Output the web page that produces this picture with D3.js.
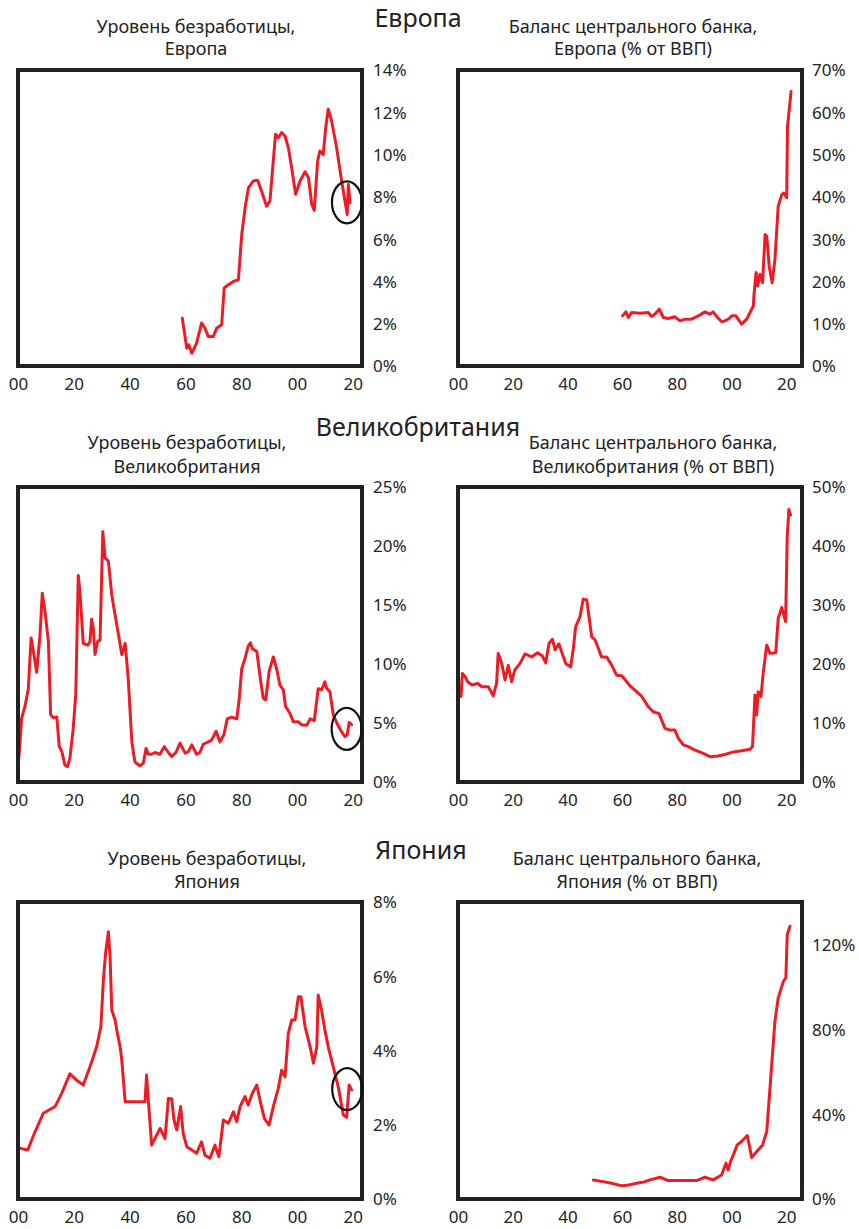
<!DOCTYPE html>
<html><head><meta charset="utf-8">
<script src="https://cdn.jsdelivr.net/npm/d3@7"></script>
<style>
html,body{margin:0;padding:0;background:#fff;}
text{font-family:"Noto Sans",sans-serif;fill:#222;}
</style></head>
<body>
<svg id="chart" width="859" height="1229"></svg>
<script>
// ---------- DATA ----------
const sectionTitles = ["Европа", "Великобритания", "Япония"];
const xTickYears = [1900, 1920, 1940, 1960, 1980, 2000, 2020];
const xTickLabels = ["00", "20", "40", "60", "80", "00", "20"];

const euUnempTitle = ["Уровень безработицы,", "Европа"];
const euBalTitle = ["Баланс центрального банка,", "Европа (% от ВВП)"];
const ukUnempTitle = ["Уровень безработицы,", "Великобритания"];
const ukBalTitle = ["Баланс центрального банка,", "Великобритания (% от ВВП)"];
const jpUnempTitle = ["Уровень безработицы,", "Япония"];
const jpBalTitle = ["Баланс центрального банка,", "Япония (% от ВВП)"];

const euUnempTicks = [0, 2, 4, 6, 8, 10, 12, 14];
const euBalTicks = [0, 10, 20, 30, 40, 50, 60, 70];
const ukUnempTicks = [0, 5, 10, 15, 20, 25];
const ukBalTicks = [0, 10, 20, 30, 40, 50];
const jpUnempTicks = [0, 2, 4, 6, 8];
const jpBalTicks = [0, 40, 80, 120];

// [year, percent]
const euUnemp = [[1958.9,2.26],[1959.6,1.63],[1960.5,0.84],[1961.2,1.0],[1962.3,0.6],[1963.2,0.85],[1964,1.08],[1965.8,2.03],[1967,1.79],[1968.2,1.39],[1970,1.39],[1971.2,1.79],[1973,1.95],[1973.9,3.69],[1975.4,3.84],[1977.2,4.0],[1979,4.08],[1980.2,6.22],[1981.4,7.48],[1982.6,8.43],[1984.3,8.75],[1985.9,8.78],[1987.3,8.27],[1989.1,7.56],[1990.3,7.8],[1991.5,9.7],[1992.3,10.96],[1993.3,10.8],[1994.5,11.04],[1995.7,10.88],[1996.9,10.33],[1998.1,9.38],[1999.5,8.12],[2001.1,8.75],[2002.9,9.19],[2004.1,8.91],[2005.3,7.64],[2006.2,7.36],[2007.4,9.7],[2008.2,10.17],[2009.4,10.01],[2010.3,11.28],[2011.2,12.15],[2012.4,11.6],[2014.2,10.33],[2016,8.75],[2017.2,7.8],[2018,7.17],[2018.4,8.59],[2019,7.72]];

const euBal = [[1960.2,11.86],[1961.4,12.8],[1962.3,11.47],[1963.5,12.65],[1966.5,12.5],[1969.6,12.65],[1970.8,11.7],[1972,12.26],[1973.6,13.43],[1975.1,11.47],[1976.9,11.24],[1979.3,11.63],[1981.2,10.68],[1983,11.08],[1985.4,11.08],[1987.9,11.86],[1990.3,12.8],[1992.1,12.26],[1993.3,12.8],[1994.6,11.7],[1996.4,10.44],[1997.6,10.68],[1999.2,11.24],[2000.1,11.86],[2001.6,11.86],[2003.7,9.9],[2005.6,11.08],[2006.8,12.65],[2008,14.2],[2008.2,16.5],[2009,22.1],[2009.6,18.9],[2010.4,21.7],[2011.4,19.7],[2012.3,31.1],[2012.9,30.7],[2013.8,23.6],[2014.9,19.7],[2015.9,25.2],[2017.1,37.8],[2018.4,40.5],[2019.2,40.9],[2020.2,39.8],[2020.5,56.6],[2021,59.8],[2021.8,64.9]];

const ukUnemp = [[1900.3,2.0],[1901.3,5.4],[1902.5,6.4],[1903.7,7.9],[1904.7,12.2],[1905.7,10.8],[1906.7,9.3],[1907.9,12.5],[1908.7,16.0],[1909.7,14.4],[1910.9,11.9],[1911.7,5.7],[1912.7,5.45],[1913.9,5.5],[1914.8,3.0],[1915.7,2.6],[1916.8,1.44],[1917.7,1.3],[1918.6,2.0],[1919.8,4.55],[1920.7,7.4],[1921.6,17.5],[1922.2,16.1],[1923.4,11.75],[1925,11.6],[1925.8,11.9],[1926.4,13.8],[1927,13.0],[1927.6,10.8],[1928.6,11.95],[1929.4,12.0],[1930.4,21.2],[1931.2,19.0],[1932.4,18.7],[1933.6,15.85],[1934.8,14.15],[1936,12.5],[1937.2,10.8],[1938.4,11.75],[1939.5,8.8],[1940.8,3.4],[1941.9,1.7],[1943.7,1.38],[1944.9,1.58],[1945.9,2.85],[1946.7,2.35],[1947.9,2.35],[1949.1,2.5],[1950.9,2.35],[1952.4,3.0],[1953.9,2.5],[1955.1,2.15],[1956.6,2.5],[1958.1,3.3],[1959.9,2.45],[1961,2.55],[1962.3,3.15],[1964,2.35],[1965.2,2.5],[1966.4,3.2],[1968.2,3.4],[1969.4,3.55],[1971,4.3],[1972.4,3.4],[1973.8,4.0],[1975,5.35],[1976.6,5.5],[1978.4,5.35],[1979.2,6.8],[1980.2,9.6],[1981.4,10.5],[1982.5,11.5],[1983.3,11.8],[1984,11.3],[1985.6,11.05],[1986.7,9.05],[1987.9,7.1],[1988.8,6.95],[1990,9.35],[1991.5,10.6],[1992.7,9.6],[1993.9,8.2],[1995.1,7.8],[1995.9,6.4],[1997.5,5.8],[1998.7,5.1],[2000.5,5.1],[2001.7,4.85],[2003.5,4.8],[2004.7,5.35],[2006.2,5.2],[2007.6,7.9],[2008.8,7.8],[2010,8.5],[2010.6,7.95],[2011.8,7.65],[2013,5.7],[2014.6,4.85],[2016,4.25],[2017.2,3.85],[2018,4.0],[2018.7,5.05],[2019.6,4.85]];

const ukBal = [[1901.1,14.5],[1901.6,18.4],[1902.6,17.85],[1903.5,17.0],[1905,16.45],[1907.2,16.7],[1908.7,16.15],[1911.1,16.15],[1912.9,14.6],[1914.1,16.7],[1914.7,21.8],[1916,20.1],[1917.2,17.3],[1918.4,19.8],[1919.6,17.0],[1920.8,19.0],[1922.7,20.1],[1924.5,21.7],[1926.9,21.2],[1929.1,21.9],[1930.8,21.4],[1932.1,20.2],[1933.3,23.5],[1934.5,24.2],[1935.5,22.4],[1936.9,23.4],[1938.1,21.8],[1939.4,20.1],[1941.2,19.5],[1942.2,22.7],[1943,26.3],[1944.6,28.0],[1945.8,31.0],[1947.1,30.85],[1947.9,28.0],[1948.9,24.6],[1950.1,24.1],[1951.3,22.7],[1952.5,21.2],[1954.4,21.2],[1956.2,19.8],[1958,18.1],[1959.9,18.0],[1961.7,17.0],[1962.9,16.3],[1965.3,15.3],[1967.2,14.5],[1969.6,12.75],[1971.4,11.9],[1973.5,11.6],[1975.7,9.1],[1977.5,8.8],[1979.3,8.8],[1980.6,7.4],[1982.4,6.3],[1984.2,6.0],[1986.7,5.4],[1989.7,4.85],[1992.1,4.3],[1995.2,4.4],[1998.2,4.75],[2000.7,5.1],[2003.7,5.3],[2006.8,5.55],[2007.7,6.0],[2008.6,14.75],[2009.2,11.35],[2009.8,15.3],[2010.8,14.5],[2011.6,18.4],[2012.9,23.2],[2014.1,21.8],[2016.2,21.9],[2017.1,27.7],[2018.4,29.6],[2019.8,27.2],[2020.4,41.6],[2021,46.2],[2021.6,45.25]];

const jpUnemp = [[1900.5,1.37],[1903.5,1.32],[1906.1,1.81],[1909.1,2.31],[1913.3,2.49],[1915.7,2.85],[1918.6,3.37],[1921,3.2],[1923.4,3.07],[1925.8,3.56],[1928.2,4.1],[1929.7,4.64],[1930.6,5.9],[1931.4,6.62],[1932.4,7.2],[1933,6.53],[1933.6,5.09],[1934.8,4.82],[1935.4,4.55],[1936.6,4.1],[1937.2,3.74],[1938.4,2.62],[1945.5,2.62],[1946.1,3.34],[1946.7,2.67],[1947.9,1.45],[1950.9,1.9],[1952.7,1.63],[1953.9,2.71],[1955.1,2.7],[1955.9,2.13],[1956.9,1.86],[1958.3,2.49],[1959.2,1.77],[1960.5,1.41],[1962.3,1.32],[1964,1.23],[1965.8,1.54],[1967,1.18],[1968.8,1.1],[1970.6,1.45],[1972,1.14],[1973.6,2.13],[1975.4,2.04],[1977.2,2.35],[1978.4,2.08],[1979.6,2.49],[1981.4,2.76],[1982.5,2.53],[1984,2.85],[1985.6,3.07],[1986.7,2.67],[1988.3,2.17],[1990,1.99],[1991.5,2.49],[1993.3,2.98],[1994.5,3.47],[1995.7,3.29],[1996.9,4.46],[1998.1,4.82],[1999.3,4.82],[2000.5,5.45],[2001.4,5.45],[2002.9,4.64],[2004.7,4.1],[2005.9,3.66],[2007.1,4.1],[2007.6,5.49],[2008.8,5.09],[2010,4.55],[2011.2,4.1],[2013,3.56],[2014.8,3.02],[2016.6,2.26],[2017.8,2.2],[2018.7,3.07],[2019.6,2.94]];

const jpBal = [[1949.5,9.0],[1953.1,8.2],[1956.2,7.4],[1959.9,6.2],[1962.5,6.6],[1965.3,7.4],[1968,8.0],[1970.2,9.0],[1973.9,10.25],[1976.9,8.7],[1982.4,8.7],[1987.3,8.7],[1990.3,10.25],[1993.3,9.0],[1996.4,11.3],[1998,16.9],[1998.8,13.7],[1999.7,17.8],[2000.7,20.8],[2002.1,25.5],[2003.7,27.1],[2005.8,29.9],[2007.4,19.5],[2009.2,22.3],[2011.4,25.5],[2012.9,31.8],[2014.1,52.4],[2015.9,83.8],[2017.1,94.8],[2019,102.6],[2019.9,104.2],[2020.4,124.7],[2021.4,128.6]];

// annotation ellipse centres [year, percent]
const euCircle = [2017.9, 7.74];
const ukCircle = [2017.8, 4.5];
const jpCircle = [2018.0, 2.96];

// ---------- LAYOUT ----------
const LEFT = {x0: 18, x1: 362, xMax: 2023.3, labelX: 373, titleX: 196};
const RIGHT = {x0: 458, x1: 802, xMax: 2025.8, labelX: 812, titleX: 633};
const ROWS = [
  {y0: 70, y1: 366, head: 27, t1: 33, t2: 55},
  {y0: 487, y1: 782, head: 436, t1: 449, t2: 473},
  {y0: 902, y1: 1199, head: 859, t1: 865, t2: 888}
];
const headX = [418, 418, 421];

const panels = [
  {col: LEFT, row: 0, data: euUnemp, yMax: 14, ticks: euUnempTicks, title: euUnempTitle, circle: euCircle},
  {col: RIGHT, row: 0, data: euBal, yMax: 70, ticks: euBalTicks, title: euBalTitle},
  {col: LEFT, row: 1, data: ukUnemp, yMax: 25, ticks: ukUnempTicks, title: ukUnempTitle, circle: ukCircle, titleX: 187},
  {col: RIGHT, row: 1, data: ukBal, yMax: 50, ticks: ukBalTicks, title: ukBalTitle, titleX: 653},
  {col: LEFT, row: 2, data: jpUnemp, yMax: 8, ticks: jpUnempTicks, title: jpUnempTitle, circle: jpCircle, titleX: 207},
  {col: RIGHT, row: 2, data: jpBal, yMax: 140, ticks: jpBalTicks, title: jpBalTitle, titleX: 637}
];

const svg = d3.select("#chart");
const RED = "#ed1c24";

sectionTitles.forEach((t, i) => {
  svg.append("text").attr("x", headX[i]).attr("y", ROWS[i].head)
    .attr("text-anchor", "middle").style("font-size", "25px").text(t);
});

panels.forEach(p => {
  const r = ROWS[p.row], c = p.col;
  const x = d3.scaleLinear().domain([1900, c.xMax]).range([c.x0, c.x1]);
  const y = d3.scaleLinear().domain([0, p.yMax]).range([r.y1, r.y0]);
  const g = svg.append("g");

  // subtitle
  const tx = p.titleX || c.titleX;
  g.append("text").attr("x", tx).attr("y", r.t1).attr("text-anchor", "middle")
    .style("font-size", "18px").text(p.title[0]);
  g.append("text").attr("x", tx).attr("y", r.t2).attr("text-anchor", "middle")
    .style("font-size", "18px").text(p.title[1]);

  // line
  const line = d3.line().x(d => x(d[0])).y(d => y(d[1]));
  g.append("path").datum(p.data).attr("d", line)
    .attr("fill", "none").attr("stroke", RED).attr("stroke-width", 3)
    .attr("stroke-linejoin", "round").attr("stroke-linecap", "round");

  // frame
  g.append("rect").attr("x", c.x0).attr("y", r.y0)
    .attr("width", c.x1 - c.x0).attr("height", r.y1 - r.y0)
    .attr("fill", "none").attr("stroke", "#222").attr("stroke-width", 4);

  // y axis (right)
  const yAxis = d3.axisRight(y).tickValues(p.ticks).tickSize(0).tickFormat(d => d + "%");
  const ya = g.append("g").attr("transform", `translate(${c.labelX},0)`).call(yAxis);
  ya.select(".domain").remove();
  ya.selectAll("text").attr("x", 0).attr("dy", "0.35em")
    .style("font-size", "17px").style("font-family", "'Noto Sans',sans-serif").attr("fill", "#222");

  // x axis (bottom)
  const xAxis = d3.axisBottom(x).tickValues(xTickYears).tickSize(0)
    .tickFormat((d, i) => xTickLabels[i]);
  const xa = g.append("g").attr("transform", `translate(0,${r.y1 + 8})`).call(xAxis);
  xa.select(".domain").remove();
  xa.selectAll("text").attr("y", 0).attr("dy", "0.95em")
    .style("font-size", "17px").style("font-family", "'Noto Sans',sans-serif").attr("fill", "#222");

  // annotation ellipse
  if (p.circle) {
    g.append("ellipse").attr("cx", x(p.circle[0])).attr("cy", y(p.circle[1]))
      .attr("rx", 15).attr("ry", 21)
      .attr("fill", "none").attr("stroke", "#111").attr("stroke-width", 2.2);
  }
});
</script>
</body></html>
